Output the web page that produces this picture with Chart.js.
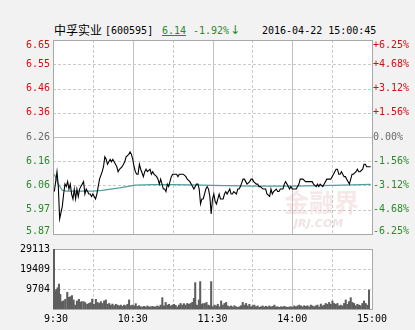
<!DOCTYPE html>
<html>
<head>
<meta charset="utf-8">
<script src="https://cdn.jsdelivr.net/npm/chart.js@4.4.0/dist/chart.umd.min.js"></script>
<style>
  html, body { margin: 0; padding: 0; background: #f2f2f2; }
  #wrap { position: relative; width: 415px; height: 330px; overflow: hidden; }
  #priceChart { position: absolute; left: 0; top: 0; }
  #volChart { position: absolute; left: 0; top: 240px; }
  .t { position: absolute; top: 24px; font: 10px "DejaVu Sans Mono", monospace; line-height: 14px; white-space: pre; color: #000; }
  .cn { font: 12px "Noto Sans CJK SC", sans-serif; line-height: 14px; top: 23px; }
  .g { color: #2a8a2a; }
  .arr { font: 12px "DejaVu Sans", sans-serif; line-height: 14px; top: 23px; }
</style>
</head>
<body>
<div id="wrap">
  <span class="t cn" style="left:54px">中孚实业</span>
  <span class="t" style="left:105px">[600595]</span>
  <span class="t g" style="left:162px;text-decoration:underline">6.14</span>
  <span class="t g" style="left:193px">-1.92%</span>
  <span class="t g arr" style="left:230px">↓</span>
  <span class="t" style="left:262px">2016-04-22 15:00:45</span>
  <canvas id="priceChart" width="415" height="240"></canvas>
  <canvas id="volChart" width="415" height="90"></canvas>
</div>
<script>
// 昨收与坐标轴
var preClose = 6.26;
var priceLabels = ['6.65', '6.55', '6.46', '6.36', '6.26', '6.16', '6.06', '5.97', '5.87'];
var pctLabels = ['+6.25%', '+4.68%', '+3.12%', '+1.56%', '0.00%', '-1.56%', '-3.12%', '-4.68%', '-6.25%'];
var volLabels = ['29113', '19409', '9704'];
var volMax = 29113;
var timeLabels = [' 9:30', '10:30', '11:30', '14:00', '15:00'];
var timeTicks = [0, 60, 120, 180, 240];

// 分时价格 (分钟, 价格)
var priceMinutes = [1, 3, 4, 5, 7, 8, 9, 10, 11, 12, 13, 14, 15, 16, 17, 18, 19, 20, 21, 23, 24, 25, 27, 28, 29, 30,
  32, 33, 34, 35, 37, 38, 39, 40, 41, 43, 44, 45, 47, 48, 49, 50, 52, 53, 54, 55, 57, 58, 59, 60,
  61, 62, 63, 64, 65, 66, 68, 69, 70, 71, 73, 74, 75, 76, 78, 79, 80, 81, 83, 84, 85, 86, 87, 88, 89,
  90, 91, 93, 94, 95, 98, 100, 101, 103, 104, 105, 106, 108, 109, 110, 111, 112, 113, 114, 115, 116, 117, 118, 119, 120,
  121, 122, 123, 124, 125, 126, 128, 129, 130, 131, 133, 134, 135, 136, 138, 139, 140, 141, 143, 144, 145, 146, 148, 149, 150,
  151, 153, 154, 155, 156, 158, 159, 160, 161, 163, 164, 165, 166, 168, 169, 170, 171, 173, 174, 175, 176, 178, 179, 180,
  181, 183, 184, 185, 186, 188, 190, 193, 195, 196, 198, 199, 200, 201, 203, 204, 205, 206, 208, 209, 210,
  211, 213, 214, 215, 216, 217, 218, 219, 220, 221, 223, 224, 225, 226, 228, 229, 230, 231, 233, 234, 235, 236, 238, 239];
var prices = [6.04, 6.12, 6.06, 5.93, 5.98, 6.03, 6.07, 6.06, 6.08, 6.05, 6.07, 6.03, 6.01, 6.05, 6.01, 6.05, 6.02, 6.05, 6.06, 6.08, 6.03, 6.05, 6.03, 6.03, 6.02, 6.03,
  6.01, 6.03, 6.06, 6.09, 6.12, 6.14, 6.18, 6.17, 6.15, 6.17, 6.16, 6.17, 6.15, 6.14, 6.12, 6.13, 6.14, 6.15, 6.16, 6.18, 6.19, 6.20, 6.19, 6.17,
  6.14, 6.12, 6.11, 6.11, 6.15, 6.13, 6.10, 6.12, 6.13, 6.12, 6.13, 6.11, 6.12, 6.11, 6.10, 6.09, 6.07, 6.09, 6.05, 6.05, 6.04, 6.07, 6.06, 6.08, 6.10,
  6.11, 6.11, 6.11, 6.10, 6.11, 6.11, 6.10, 6.09, 6.08, 6.07, 6.06, 6.05, 6.07, 6.07, 6.05, 5.99, 6.01, 6.01, 6.03, 6.05, 6.06, 6.05, 6.02, 5.95, 6.01,
  6.03, 6.00, 5.99, 6.01, 6.03, 6.01, 6.01, 6.03, 6.04, 6.03, 6.05, 6.03, 6.03, 6.04, 6.03, 6.05, 6.05, 6.06, 6.09, 6.09, 6.08, 6.07, 6.08, 6.09, 6.09,
  6.08, 6.07, 6.07, 6.06, 6.06, 6.05, 6.05, 6.05, 6.03, 6.02, 6.05, 6.03, 6.04, 6.05, 6.04, 6.04, 6.05, 6.05, 6.07, 6.08, 6.07, 6.05, 6.06, 6.05,
  6.05, 6.05, 6.06, 6.07, 6.09, 6.09, 6.08, 6.08, 6.08, 6.07, 6.06, 6.07, 6.06, 6.07, 6.06, 6.07, 6.08, 6.09, 6.09, 6.09, 6.10,
  6.11, 6.13, 6.13, 6.11, 6.11, 6.12, 6.11, 6.10, 6.10, 6.09, 6.07, 6.09, 6.11, 6.11, 6.12, 6.13, 6.12, 6.12, 6.13, 6.15, 6.15, 6.14, 6.14, 6.14];

// 均价线
var avgMinutes = [1, 4, 7, 10, 20, 30, 37, 50, 62, 75, 90, 105, 120, 150, 180, 210, 239];
var avgPrices = [6.11, 6.07, 6.045, 6.042, 6.042, 6.042, 6.045, 6.055, 6.066, 6.068, 6.068, 6.067, 6.065, 6.062, 6.062, 6.065, 6.069];

// 成交量
var volMinutes = [0.75, 1.5, 2.5, 3.5, 4.5, 5.5, 6.75, 8, 9.25, 10.75, 12, 13.25, 14.25, 15.5, 16.75, 18, 19.5, 20.5, 21.5, 23,
  24.25, 25.75, 27, 28.25, 29.5, 30.75, 32.25, 33.5, 34.75, 36, 37.25, 38.5, 39.75, 41, 42.25, 43.5, 44.75, 46, 47.25, 48.5,
  49.75, 51, 52.25, 53.5, 54.75, 56, 57.25, 58.5, 59.75, 61, 62.25, 63.5, 64.75, 66, 67.25, 68.5, 69.75, 71, 72.25, 73.5,
  74.75, 76, 77.25, 78.5, 79.75, 81, 82.25, 83.5, 84.75, 86, 87.25, 88.5, 89.75, 91, 92.25, 93.5, 94.75, 96, 97.25, 98.5,
  99.75, 101, 102.25, 103.5, 104.75, 106, 107, 108, 109, 109.75, 110.75, 111.75, 112.75, 114.25, 115.5, 116.75, 118, 119,
  120.25, 121.5, 122.75, 124, 125.25, 126.5, 127.75, 129, 130.25, 131.5, 132.75, 134, 135.25, 136.5, 137.75, 139, 140.25, 141.5,
  142.75, 144, 145.25, 146.5, 147.75, 149, 150.25, 151.5, 152.75, 154, 155.25, 156.5, 157.75, 159, 160.25, 161.5, 162.75, 164,
  165.25, 166.5, 167.75, 169, 170.25, 171.5, 172.75, 174, 175.25, 176.5, 177.75, 179, 180.25, 181.5, 182.75, 184, 185.25, 186.5,
  187.75, 189, 190.25, 191.5, 192.75, 194, 195.25, 196.5, 197.75, 199, 200.25, 201.5, 202.75, 204, 205.25, 206.5, 207.75, 209,
  210.25, 211.5, 212.75, 214, 215.25, 216.5, 217.75, 219, 220.25, 221.5, 222.75, 224, 225.25, 226.5, 227.75, 229, 230.25, 231.5,
  232.75, 234, 235.25, 236.5, 237.75];
var volumes = [29113, 8700, 9500, 10300, 12100, 7100, 3600, 4000, 4700, 8100, 5700, 6000, 6500, 4400, 1900, 3900, 4700, 3200, 3600, 3600,
  3100, 2300, 2700, 3100, 4850, 2300, 4700, 3200, 2700, 3600, 2700, 3900, 4400, 2300, 2700, 1900, 2400, 1600, 2300, 1900,
  1500, 1900, 1300, 1900, 1600, 2300, 4400, 1600, 1900, 1500, 2600, 1300, 1600, 1100, 1000, 1300, 1000, 1500, 1000, 1100,
  1300, 1000, 1100, 1500, 1100, 1900, 5500, 1500, 3200, 1900, 2300, 1500, 1900, 2300, 1800, 1000, 1900, 2700, 1900, 2600,
  1900, 2700, 2300, 2700, 3200, 5200, 12800, 1900, 1600, 4400, 13300, 2300, 2600, 2700, 3200, 1900, 1600, 13300,
  1100, 1900, 1500, 2300, 1100, 3900, 1900, 2700, 3200, 1500, 1100, 1500, 1000, 1600, 1100, 800, 1100, 1600,
  3200, 1900, 2700, 1500, 2300, 1100, 1600, 1900, 1100, 1500, 800, 1100, 1500, 1000, 1300, 1000, 1500, 1000,
  1300, 1900, 1000, 1100, 800, 1100, 1000, 1300, 1000, 800, 1000, 1100, 800, 1500, 1100, 1500, 1900, 1500,
  1100, 1600, 1300, 1600, 1000, 1900, 1500, 1100, 1600, 1900, 1000, 2400, 1500, 1900, 2700, 2300, 3200, 2300,
  3900, 2700, 2300, 2700, 1500, 1900, 1500, 2700, 4400, 2300, 3600, 5500, 3200, 2700, 1600, 2300, 1900, 1600,
  2700, 3900, 2700, 1900, 9200];

var upColor = '#cc1111';
var downColor = '#2a8a2a';
var flatColor = '#6a6a6a';
var labelFont = '10px "DejaVu Sans Mono", monospace';
var gridTimes = [30, 60, 90, 120, 150, 180, 210];
var solidTimes = [60, 120, 180];

function hline(ctx, a, py, solid) {
    ctx.strokeStyle = solid ? '#c0c0c0' : '#cacaca';
    ctx.setLineDash(solid ? [] : [3, 2]);
    ctx.beginPath();
    ctx.moveTo(a.left, py);
    ctx.lineTo(a.right, py);
    ctx.stroke();
}

// 背景、网格、边框
function drawPanel(chart, yValues, solidIndex) {
    var ctx = chart.ctx, a = chart.chartArea, x = chart.scales.x, y = chart.scales.y;
    ctx.save();
    ctx.fillStyle = '#ffffff';
    ctx.fillRect(a.left, a.top, a.right - a.left, a.bottom - a.top);
    ctx.lineWidth = 1;
    gridTimes.forEach(function (m) {
        var solid = solidTimes.indexOf(m) !== -1;
        var px = Math.round(x.getPixelForValue(m)) + 0.5;
        ctx.strokeStyle = solid ? '#c0c0c0' : '#cacaca';
        ctx.setLineDash(solid ? [] : [3, 2]);
        ctx.beginPath();
        ctx.moveTo(px, a.top);
        ctx.lineTo(px, a.bottom);
        ctx.stroke();
    });
    yValues.forEach(function (v, i) {
        hline(ctx, a, Math.round(y.getPixelForValue(v)) + 0.5, i === solidIndex);
    });
    ctx.setLineDash([]);
    ctx.strokeStyle = '#a8a8a8';
    ctx.strokeRect(Math.round(a.left) + 0.5, Math.round(a.top) + 0.5, Math.round(a.right - a.left), Math.round(a.bottom - a.top));
    ctx.restore();
}

// 价格坐标值
var priceMin = preClose * (1 - 0.0625);
var priceMax = preClose * (1 + 0.0625);
var priceGrid = priceLabels.map(function (l, i) { return priceMax - i * (priceMax - priceMin) / 8; });

var pricePlugin = {
    id: 'pricePanel',
    beforeDatasetsDraw: function (chart) {
        drawPanel(chart, priceGrid.slice(1, 8), 3);
        var ctx = chart.ctx;
        ctx.save();
        ctx.fillStyle = 'rgba(215,150,150,0.22)';
        ctx.font = 'bold 25px "Noto Sans CJK SC", sans-serif';
        ctx.textBaseline = 'alphabetic';
        ctx.fillText('金融界', 284, 212);
        ctx.font = 'italic bold 11px "DejaVu Sans", sans-serif';
        ctx.fillStyle = 'rgba(200,160,160,0.3)';
        ctx.fillText('JRJ.COM', 294, 227);
        ctx.restore();
    },
    afterDraw: function (chart) {
        var ctx = chart.ctx, a = chart.chartArea, y = chart.scales.y;
        ctx.save();
        ctx.font = labelFont;
        ctx.textBaseline = 'middle';
        priceGrid.forEach(function (v, i) {
            var py = Math.min(Math.max(y.getPixelForValue(v), a.top + 5), a.bottom - 3);
            var c = i < 4 ? upColor : (i === 4 ? flatColor : downColor);
            ctx.fillStyle = c;
            ctx.textAlign = 'right';
            ctx.fillText(priceLabels[i], a.left - 3, py);
            ctx.textAlign = 'left';
            ctx.fillText(pctLabels[i], a.right + 1, py);
        });
        ctx.restore();
    }
};

var volPlugin = {
    id: 'volPanel',
    beforeDatasetsDraw: function (chart) {
        drawPanel(chart, [volMax * 2 / 3, volMax / 3], -1);
    },
    afterDraw: function (chart) {
        var ctx = chart.ctx, a = chart.chartArea, x = chart.scales.x, y = chart.scales.y;
        ctx.save();
        ctx.font = labelFont;
        ctx.fillStyle = '#000';
        ctx.textBaseline = 'middle';
        ctx.textAlign = 'right';
        volLabels.forEach(function (l, i) {
            ctx.fillText(l, a.left - 3, y.getPixelForValue(volMax * (3 - i) / 3));
        });
        ctx.textAlign = 'center';
        timeLabels.forEach(function (l, i) {
            ctx.fillText(l, x.getPixelForValue(timeTicks[i]), a.bottom + 10);
        });
        ctx.restore();
    }
};

var priceChart = new Chart(document.getElementById('priceChart'), {
    type: 'line',
    data: {
        datasets: [
            {
                label: '价格',
                data: priceMinutes.map(function (m, i) { return { x: m, y: prices[i] }; }),
                borderColor: '#000000',
                borderWidth: 1.1,
                pointRadius: 0,
                tension: 0
            },
            {
                label: '均价',
                data: avgMinutes.map(function (m, i) { return { x: m, y: avgPrices[i] }; }),
                borderColor: '#4f9f9f',
                borderWidth: 1.2,
                pointRadius: 0,
                tension: 0
            }
        ]
    },
    options: {
        responsive: false,
        animation: false,
        devicePixelRatio: 1,
        layout: { padding: { left: 53, right: 43, top: 40, bottom: 6 } },
        plugins: { legend: { display: false }, tooltip: { enabled: false } },
        scales: {
            x: { type: 'linear', min: 0, max: 240, display: false },
            y: { type: 'linear', min: priceMin, max: priceMax, display: false }
        }
    },
    plugins: [pricePlugin]
});

var volChart = new Chart(document.getElementById('volChart'), {
    type: 'bar',
    data: {
        datasets: [{
            label: '成交量',
            data: volMinutes.map(function (m, i) { return { x: m, y: volumes[i] }; }),
            backgroundColor: '#5e5e5e',
            barThickness: 1.4
        }]
    },
    options: {
        responsive: false,
        animation: false,
        devicePixelRatio: 1,
        layout: { padding: { left: 53, right: 43, top: 9, bottom: 21 } },
        plugins: { legend: { display: false }, tooltip: { enabled: false } },
        scales: {
            x: { type: 'linear', min: 0, max: 240, offset: false, display: false },
            y: { type: 'linear', min: 0, max: volMax, display: false }
        }
    },
    plugins: [volPlugin]
});
</script>
</body>
</html>
